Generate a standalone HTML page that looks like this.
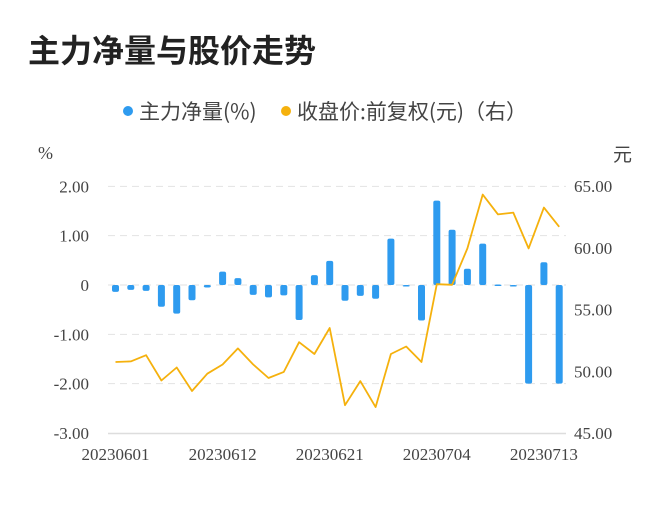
<!DOCTYPE html>
<html><head><meta charset="utf-8">
<style>
body{margin:0;background:#fff;width:672px;height:500px;overflow:hidden;font-family:"Liberation Sans","Noto Sans CJK SC",sans-serif;}
svg text{font-family:"Liberation Serif","Noto Sans CJK SC",serif;}
</style></head>
<body>
<svg id="chart" width="672" height="500">
<text x="28" y="62" font-size="32" font-weight="bold" fill="#222" style="font-family:'Noto Sans CJK SC',sans-serif">主力净量与股价走势</text>
<g>
<circle cx="128" cy="111" r="5" fill="#2e9bef"/>
<text x="139" y="119" font-size="21" fill="#444" style="font-family:'Noto Sans CJK SC',sans-serif">主力净量(%)</text>
<circle cx="286" cy="111" r="5" fill="#f5b10d"/>
<text x="297" y="119" font-size="21" fill="#444" style="font-family:'Noto Sans CJK SC',sans-serif">收盘价:前复权(元)（右）</text>
</g>
<text x="38" y="159" font-size="18" fill="#444">%</text>
<text x="613" y="161" font-size="19" fill="#444" style="font-family:'Noto Sans CJK SC',sans-serif">元</text>
<g id="grid"></g><g id="bars"></g><g id="line"></g><g id="axes"></g>
</svg>
<script>
const dates=["20230601","20230602","20230605","20230606","20230607","20230608","20230609","20230612","20230613","20230614","20230615","20230616","20230619","20230620","20230621","20230626","20230627","20230628","20230629","20230630","20230703","20230704","20230705","20230706","20230707","20230710","20230711","20230712","20230713","20230714"];
const netValues=[-0.14,-0.10,-0.12,-0.44,-0.58,-0.31,-0.05,0.27,0.14,-0.20,-0.25,-0.21,-0.71,0.20,0.49,-0.32,-0.22,-0.28,0.94,-0.03,-0.72,1.71,1.12,0.33,0.84,0.01,-0.02,-2.00,0.46,-2.00];
const priceValues=[50.75,50.8,51.3,49.25,50.3,48.4,49.8,50.55,51.85,50.55,49.45,49.95,52.35,51.4,53.5,47.25,49.2,47.1,51.4,52.0,50.75,57.05,57.0,59.95,64.3,62.7,62.85,59.95,63.25,61.7];
const leftTicks=[2,1,0,-1,-2,-3];
const leftTickLabels=["2.00","1.00","0","-1.00","-2.00","-3.00"];
const rightTicks=[65,60,55,50,45];
const rightTickLabels=["65.00","60.00","55.00","50.00","45.00"];
const xLabelIdx=[0,7,14,21,28];

const NS="http://www.w3.org/2000/svg";
const x0=115.5,step=15.3;
const xs=i=>x0+i*step;
const yL=v=>285-v*49.33;
const yR=v=>186+(65-v)*(247/20);
function mk(tag,attrs,parent,text){const e=document.createElementNS(NS,tag);for(const k in attrs)e.setAttribute(k,attrs[k]);if(text!=null)e.textContent=text;document.getElementById(parent).appendChild(e);return e;}

leftTicks.forEach((t,i)=>{
  const y=yL(t);
  if(t!==-3){const g=mk('line',{x1:108,x2:566,y1:y,y2:y,stroke:'#e2e2e2','stroke-dasharray':'7,5'},'grid');
  
  }
  const tx=mk('text',{x:89,y:y+6,'font-size':17,fill:'#444','text-anchor':'end'},'axes',leftTickLabels[i]);
  
  
});
rightTicks.forEach((t,i)=>{
  const tx=mk('text',{x:574,y:yR(t)+6,'font-size':17,fill:'#444'},'axes',rightTickLabels[i]);
  
  
});
const ax=mk('line',{x1:108,x2:566,y1:433.5,y2:433.5,stroke:'#ddd','stroke-width':1.5},'axes');


xLabelIdx.forEach(i=>{
  const tx=mk('text',{x:xs(i),y:460,'font-size':17,fill:'#444','text-anchor':'middle'},'axes',dates[i]);
  
  
});
netValues.forEach((v,i)=>{
  const y0=yL(0),y1=yL(v);
  const h=Math.max(Math.abs(y1-y0),1.5);
  const r=mk('rect',{x:xs(i)-3.5,y:Math.min(y0,y1),width:7,height:h,rx:2,fill:'#2e9bef'},'bars');
  
  
});
const pts=priceValues.map((v,i)=>xs(i).toFixed(1)+','+yR(v).toFixed(1)).join(' ');
const pl=mk('polyline',{points:pts,fill:'none',stroke:'#f5b10d','stroke-width':1.8,'stroke-linejoin':'round'},'line');


</script>
</body></html>
